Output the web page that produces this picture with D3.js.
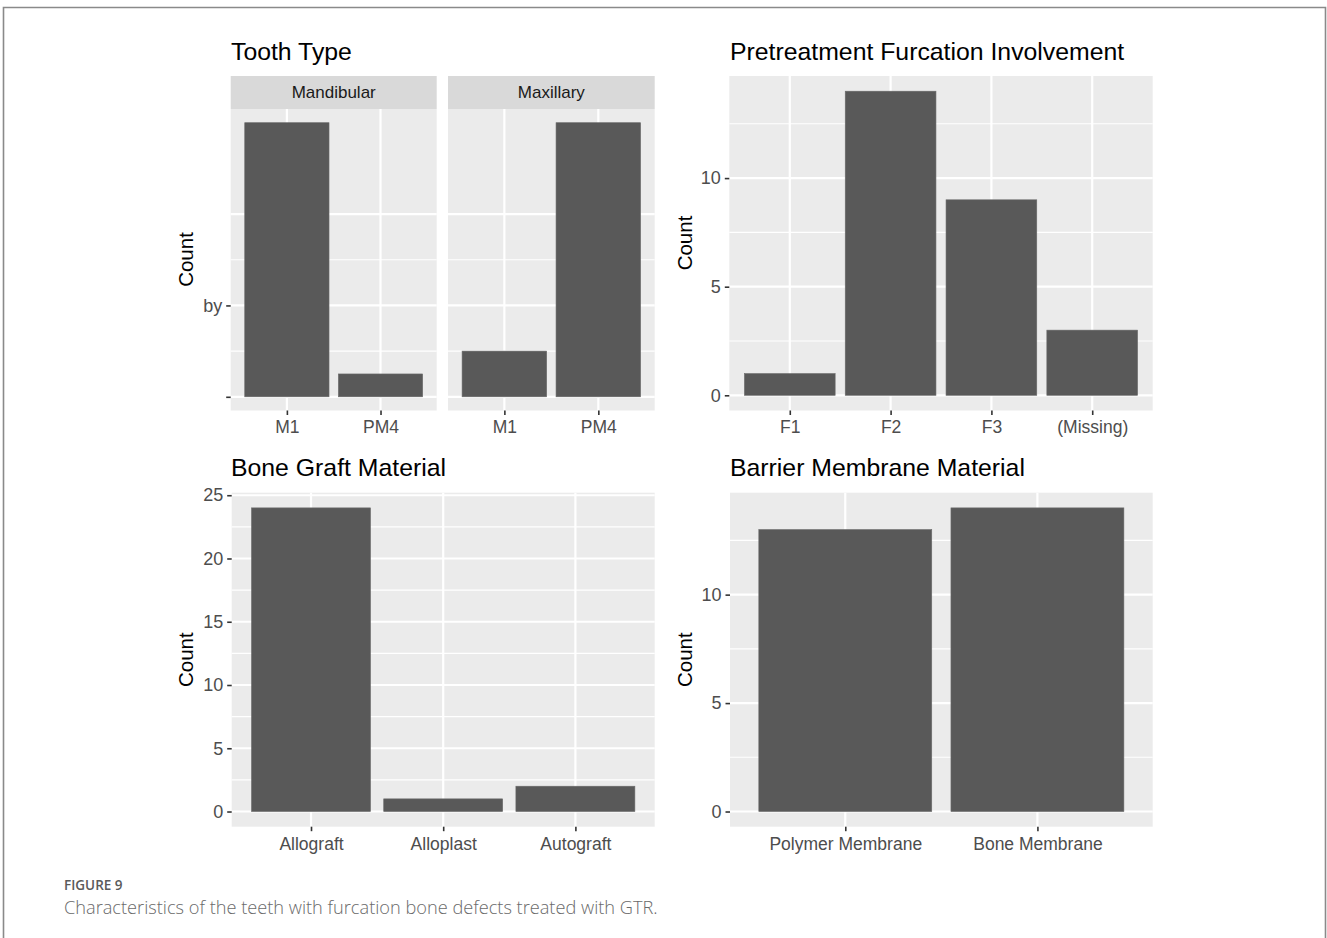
<!DOCTYPE html>
<html>
<head>
<meta charset="utf-8">
<script src="https://cdn.jsdelivr.net/npm/d3@7"></script>
<style>
  html, body { margin: 0; padding: 0; background: #fff; }
  svg text { font-family: "Liberation Sans", Arial, Helvetica, sans-serif; }
</style>
</head>
<body>
<svg id="fig" width="1327" height="938"></svg>
<script>
// ---- data ----
const toothFacets = ["Mandibular", "Maxillary"];
const toothTypes = ["M1", "PM4"];
const toothMandibular = [12, 1];
const toothMaxillary = [2, 12];
const toothTickValues = [0, 4];
const toothTickLabels = ["", "by"];

const furcationCats = ["F1", "F2", "F3", "(Missing)"];
const furcationCounts = [1, 14, 9, 3];

const graftCats = ["Allograft", "Alloplast", "Autograft"];
const graftCounts = [24, 1, 2];

const membraneCats = ["Polymer Membrane", "Bone Membrane"];
const membraneCounts = [13, 14];

const countTicks15 = [0, 5, 10];
const countTicks25 = [0, 5, 10, 15, 20, 25];

// ---- styles ----
const PANEL_BG = "#ebebeb";
const STRIP_BG = "#d9d9d9";
const BAR = "#595959";
const TEXT = "#4d4d4d";

const svg = d3.select("#fig");

// page frame
svg.append("path")
  .attr("d", "M3.5,940 V7.5 H1325.5 V940")
  .attr("fill", "none").attr("stroke", "#8a8a8a").attr("stroke-width", 1.6);

// ggplot-like bar panel
function panel(opts) {
  const { x0, x1, y0, y1, cats, vals, ymax, majors, minors, tickVals, tickLabels, showYAxis } = opts;
  const g = svg.append("g");
  const x = d3.scalePoint().domain(cats).range([x0, x1]).padding(0.6);
  const pad = ymax * 0.05;
  const y = d3.scaleLinear().domain([-pad, ymax + pad]).range([y1, y0]);

  g.append("rect").attr("x", x0).attr("y", y0).attr("width", x1 - x0).attr("height", y1 - y0)
    .attr("fill", PANEL_BG);

  // minor grid
  g.selectAll(".gminor").data(minors).join("line")
    .attr("x1", x0).attr("x2", x1).attr("y1", d => y(d)).attr("y2", d => y(d))
    .attr("stroke", "#fff").attr("stroke-width", 1.1);
  // major grid
  g.selectAll(".gmajor").data(majors).join("line")
    .attr("x1", x0).attr("x2", x1).attr("y1", d => y(d)).attr("y2", d => y(d))
    .attr("stroke", "#fff").attr("stroke-width", 2.2);
  g.selectAll(".gx").data(cats).join("line")
    .attr("x1", d => x(d)).attr("x2", d => x(d)).attr("y1", y0).attr("y2", y1)
    .attr("stroke", "#fff").attr("stroke-width", 2.2);

  const bw = x.step() * 0.9;
  g.selectAll(".bar").data(cats.map((c, i) => ({ c, v: vals[i] }))).join("rect")
    .attr("x", d => x(d.c) - bw / 2).attr("width", bw)
    .attr("y", d => y(d.v)).attr("height", d => y(0) - y(d.v))
    .attr("fill", BAR).attr("stroke", "#6a6a6a").attr("stroke-width", 0.6);

  // x axis
  const xa = g.append("g").attr("transform", `translate(0,${y1})`)
    .call(d3.axisBottom(x).tickSize(4.5).tickPadding(6));
  xa.select(".domain").remove();
  xa.selectAll(".tick line").attr("stroke", "#333").attr("stroke-width", 1.6);
  xa.selectAll(".tick text").attr("fill", TEXT).attr("font-size", "17.5px")
    .attr("font-family", "Liberation Sans, Arial, sans-serif");

  if (showYAxis) {
    const ya = g.append("g").attr("transform", `translate(${x0},0)`)
      .call(d3.axisLeft(y).tickValues(tickVals).tickFormat((d, i) => tickLabels[i]).tickSize(4.5).tickPadding(4));
    ya.select(".domain").remove();
    ya.selectAll(".tick line").attr("stroke", "#333").attr("stroke-width", 1.6);
    ya.selectAll(".tick text").attr("fill", TEXT).attr("font-size", "18px")
      .attr("font-family", "Liberation Sans, Arial, sans-serif");
  }
  return { x, y, g };
}

function title(text, x, y) {
  svg.append("text").attr("x", x).attr("y", y).text(text)
    .attr("font-size", "24.8px").attr("fill", "#000");
}
function yTitle(cx, cy) {
  svg.append("text").attr("transform", `translate(${cx},${cy}) rotate(-90)`)
    .attr("text-anchor", "middle").attr("dominant-baseline", "central")
    .attr("font-size", "20.5px").attr("fill", "#000").text("Count");
}
function strip(text, x0, x1, y0, y1) {
  svg.append("rect").attr("x", x0).attr("y", y0).attr("width", x1 - x0).attr("height", y1 - y0)
    .attr("fill", STRIP_BG);
  svg.append("text").attr("x", (x0 + x1) / 2).attr("y", (y0 + y1) / 2)
    .attr("text-anchor", "middle").attr("dominant-baseline", "central")
    .attr("font-size", "17px").attr("fill", "#1a1a1a").text(text);
}

// ---- Tooth Type (faceted) ----
title("Tooth Type", 231, 60);
yTitle(185, 259.5);
const toothVals = [toothMandibular, toothMaxillary];
const facetX = [[230.7, 436.7], [448, 654.7]];
toothFacets.forEach((f, i) => {
  strip(f, facetX[i][0], facetX[i][1], 76, 109);
  panel({
    x0: facetX[i][0], x1: facetX[i][1], y0: 109, y1: 410.5,
    cats: toothTypes, vals: toothVals[i], ymax: 12,
    majors: [0, 4, 8], minors: [2, 6],
    tickVals: toothTickValues, tickLabels: toothTickLabels, showYAxis: i === 0
  });
});

// ---- Pretreatment Furcation Involvement ----
title("Pretreatment Furcation Involvement", 730, 60);
yTitle(684, 243);
panel({
  x0: 729.3, x1: 1152.7, y0: 76, y1: 410.5,
  cats: furcationCats, vals: furcationCounts, ymax: 14,
  majors: countTicks15, minors: [2.5, 7.5, 12.5],
  tickVals: countTicks15, tickLabels: countTicks15.map(String), showYAxis: true
});

// ---- Bone Graft Material ----
title("Bone Graft Material", 231, 476);
yTitle(185, 659.7);
panel({
  x0: 231.7, x1: 654.7, y0: 492.7, y1: 826.7,
  cats: graftCats, vals: graftCounts, ymax: 24,
  majors: countTicks25, minors: [2.5, 7.5, 12.5, 17.5, 22.5],
  tickVals: countTicks25, tickLabels: countTicks25.map(String), showYAxis: true
});

// ---- Barrier Membrane Material ----
title("Barrier Membrane Material", 730, 476);
yTitle(684, 659.7);
panel({
  x0: 730, x1: 1152.7, y0: 492.7, y1: 826.7,
  cats: membraneCats, vals: membraneCounts, ymax: 14,
  majors: countTicks15, minors: [2.5, 7.5, 12.5],
  tickVals: countTicks15, tickLabels: countTicks15.map(String), showYAxis: true
});

// ---- caption ----
svg.append("text").attr("x", 64).attr("y", 890)
  .style("font-family", "'Open Sans', 'Noto Sans', sans-serif")
  .attr("font-size", "13.5px").attr("font-weight", 600).attr("fill", "#5a5a5a")
  .text("FIGURE 9");
svg.append("text").attr("x", 64).attr("y", 914)
  .style("font-family", "'Open Sans', 'Noto Sans', sans-serif")
  .attr("font-size", "18.2px").attr("font-weight", 300).attr("fill", "#6a6a6a")
  .text("Characteristics of the teeth with furcation bone defects treated with GTR.");
</script>
</body>
</html>
